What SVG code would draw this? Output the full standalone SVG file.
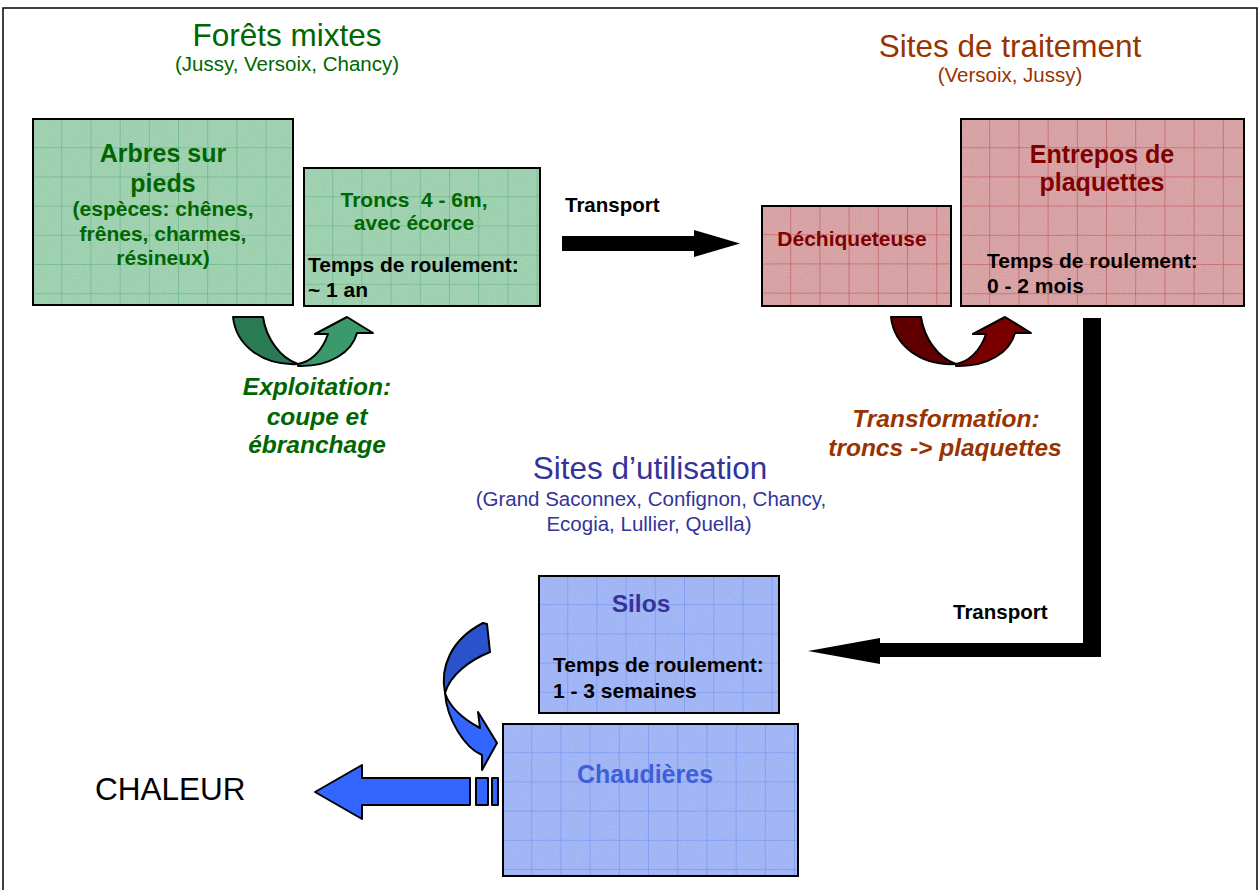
<svg xmlns="http://www.w3.org/2000/svg" width="1260" height="890" viewBox="0 0 1260 890">
<defs>
<pattern id="gridG" patternUnits="userSpaceOnUse" width="29.2" height="29.2">
<rect width="29.2" height="29.2" fill="#9fd1b0"/>
<path d="M29.2,0 V29.2 M0,29.2 H29.2" stroke="#5aab80" stroke-width="1"/>
</pattern>
<pattern id="gridR" patternUnits="userSpaceOnUse" width="29.2" height="29.2">
<rect width="29.2" height="29.2" fill="#d8a3a5"/>
<path d="M29.2,0 V29.2 M0,29.2 H29.2" stroke="#b8474c" stroke-width="1"/>
</pattern>
<pattern id="gridB" patternUnits="userSpaceOnUse" width="29.2" height="29.2">
<rect width="29.2" height="29.2" fill="#a2b6f5"/>
<path d="M29.2,0 V29.2 M0,29.2 H29.2" stroke="#6a8cf0" stroke-width="1"/>
</pattern>
<filter id="noise" x="0" y="0" width="100%" height="100%">
<feTurbulence type="fractalNoise" baseFrequency="0.9" numOctaves="1" seed="3" result="n"/>
<feColorMatrix in="n" type="matrix" values="0.33 0.33 0.33 0 0  0.33 0.33 0.33 0 0  0.33 0.33 0.33 0 0  0 0 0 0 1" result="g"/>
<feComposite in="SourceGraphic" in2="g" operator="arithmetic" k1="0" k2="1" k3="0.22" k4="-0.11" result="m"/>
<feComposite in="m" in2="SourceGraphic" operator="in"/>
</filter>
</defs>
<style>
text{font-family:"Liberation Sans",Arial,sans-serif;}
.box{stroke:#000;stroke-width:2;}
.b{font-weight:bold;}
.c{text-anchor:middle;}
.bi{font-weight:bold;font-style:italic;}
.blk{fill:#000;}
.gr{fill:#006600;}
.rd{fill:#800000;}
.bl{fill:#333399;}
.ar{stroke:#000;stroke-width:2;stroke-linejoin:round;}
.lg{font-size:25px;}
.md{font-size:21px;}
</style>
<rect x="3" y="8" width="1254" height="900" fill="#fff" stroke="#000" stroke-width="1.5"/>

<g id="title-forets">
<text x="287" y="46" class="c gr" font-size="31.5">Forêts mixtes</text>
<text x="287" y="71" class="c gr" font-size="20.5">(Jussy, Versoix, Chancy)</text>
</g>
<g id="title-traitement">
<text x="1010" y="57" class="c" font-size="31.5" fill="#993300">Sites de traitement</text>
<text x="1010" y="82" class="c" font-size="20.5" fill="#993300">(Versoix, Jussy)</text>
</g>
<g id="title-utilisation">
<text x="650" y="479" class="c bl" font-size="31.5">Sites d’utilisation</text>
<text x="651" y="506" class="c bl" font-size="20.5">(Grand Saconnex, Confignon, Chancy,</text>
<text x="649" y="531" class="c bl" font-size="20.5">Ecogia, Lullier, Quella)</text>
</g>

<g id="node-arbres" transform="translate(33,119)">
<rect width="260" height="186" fill="url(#gridG)" filter="url(#noise)"/>
<rect width="260" height="186" fill="none" class="box"/>
<text x="130" y="43" class="c b gr lg">Arbres sur</text>
<text x="130" y="73" class="c b gr lg">pieds</text>
<text x="130" y="97" class="c b gr md">(espèces: chênes,</text>
<text x="130" y="122" class="c b gr md">frênes, charmes,</text>
<text x="130" y="146" class="c b gr md">résineux)</text>
</g>

<g id="node-troncs" transform="translate(304,168)">
<rect width="236" height="138" fill="url(#gridG)" filter="url(#noise)"/>
<rect width="236" height="138" fill="none" class="box"/>
<text x="110" y="39" class="c b gr md" style="white-space:pre">Troncs  4 - 6m,</text>
<text x="110" y="62" class="c b gr md">avec écorce</text>
<text x="4" y="104" class="b blk md">Temps de roulement:</text>
<text x="4" y="129" class="b blk md">~ 1 an</text>
</g>

<g id="node-dechiqueteuse" transform="translate(762,206)">
<rect width="189" height="100" fill="url(#gridR)" filter="url(#noise)"/>
<rect width="189" height="100" fill="none" class="box"/>
<text x="90" y="40" class="c b rd md">Déchiqueteuse</text>
</g>

<g id="node-entrepos" transform="translate(961,119)">
<rect width="283" height="187" fill="url(#gridR)" filter="url(#noise)"/>
<rect width="283" height="187" fill="none" class="box"/>
<text x="141" y="44" class="c b rd lg">Entrepos de</text>
<text x="141" y="72" class="c b rd lg">plaquettes</text>
<text x="26" y="149" class="b blk md">Temps de roulement:</text>
<text x="26" y="174" class="b blk md">0 - 2 mois</text>
</g>

<g id="node-silos" transform="translate(539,576)">
<rect width="240" height="137" fill="url(#gridB)" filter="url(#noise)"/>
<rect width="240" height="137" fill="none" class="box"/>
<text x="102" y="36" class="c b bl" font-size="24.5">Silos</text>
<text x="14" y="96" class="b blk md">Temps de roulement:</text>
<text x="14" y="122" class="b blk md">1 - 3 semaines</text>
</g>

<g id="node-chaudieres" transform="translate(503,724)">
<rect width="295" height="152" fill="url(#gridB)" filter="url(#noise)"/>
<rect width="295" height="152" fill="none" class="box"/>
<text x="142" y="59" class="c b lg" fill="#3e5fd8">Chaudières</text>
</g>

<g id="chaleur">
<text x="95" y="800" font-size="31.5" class="blk">CHALEUR</text>
</g>

<g id="connectors">
<g id="arrow-exploitation">
<path class="ar" fill="#2a7a55" d="M233,317 L263,317 C266,338 280,358 298,364 C262,366 236,345 233,317 Z"/>
<path class="ar" fill="#3a9a6b" d="M298,366 C330,367 352,352 357,333 L373,333 L347,317 L315,334 L328,334 C322,352 310,362 298,364 Z"/>
</g>
<g id="arrow-transformation" transform="translate(658,0)">
<path class="ar" fill="#600000" d="M233,317 L263,317 C266,338 280,358 298,364 C262,366 236,345 233,317 Z"/>
<path class="ar" fill="#7a0000" d="M298,366 C330,367 352,352 357,333 L373,333 L347,317 L315,334 L328,334 C322,352 310,362 298,364 Z"/>
</g>
<g id="transport-1">
<path d="M562,236 H694 V230 L740,243.5 L694,257 V251 H562 Z" fill="#000"/>
<text x="565" y="212" class="b blk" font-size="20.5">Transport</text>
</g>
<g id="transport-2">
<path d="M1083,318 H1101 V657 H880 V664 L808,651 L880,638 V643 H1083 Z" fill="#000"/>
<text x="953" y="619" class="b blk" font-size="20.5">Transport</text>
</g>
<g id="arrow-silos-chaudieres">
<path class="ar" fill="#2a52cc" d="M483,623 L487,624 L490,652 C470,660 450,675 445,693 C440,668 450,640 483,623 Z"/>
<path class="ar" fill="#3366ff" d="M445,693 C447,720 465,748 482,755 L482,770 L497,743 L478,712 L480,728 C465,720 450,708 445,693 Z"/>
</g>
<g id="arrow-chaleur">
<path class="ar" fill="#3366ff" d="M315,792 L362,765 V778 H470 V805 H362 V819 Z"/>
<rect class="ar" fill="#3366ff" x="476" y="778" width="12" height="27"/>
<rect class="ar" fill="#3366ff" x="492" y="778" width="6" height="27"/>
</g>
<g id="labels">
<text x="317" y="395" class="c bi gr" font-size="24.5">Exploitation:</text>
<text x="317" y="425" class="c bi gr" font-size="24.5">coupe et</text>
<text x="317" y="453" class="c bi gr" font-size="24.5">ébranchage</text>
<text x="946" y="427" class="c bi" font-size="24.5" fill="#993300">Transformation:</text>
<text x="945" y="456" class="c bi" font-size="24.5" fill="#993300">troncs -&gt; plaquettes</text>
</g>
</g>
</svg>
